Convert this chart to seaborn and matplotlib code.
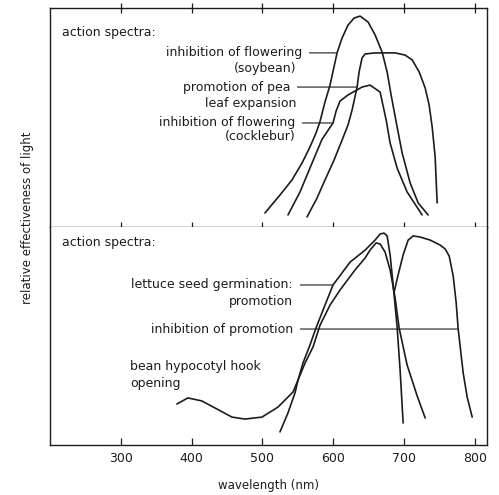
import matplotlib
matplotlib.use("Agg")
import matplotlib.pyplot as plt
import seaborn as sns

# upper panel: wavelength (nm) and relative effectiveness (0-1)
soy_nm = [503.5, 524.7, 541.7, 555.8, 567.0, 575.6, 581.0, 588.3, 595.4, 605.3,
          612.4, 620.8, 629.3, 637.8, 649.1, 659.0, 668.9, 676.0, 681.6, 690.1,
          697.2, 708.5, 719.8, 733.9]
soy_val = [0.064, 0.146, 0.215, 0.292, 0.365, 0.429, 0.479, 0.571, 0.648, 0.795,
           0.863, 0.922, 0.954, 0.963, 0.936, 0.877, 0.799, 0.708, 0.603, 0.457,
           0.338, 0.201, 0.110, 0.055]

pea_nm = [562.9, 577.0, 588.3, 601.1, 612.4, 620.8, 626.5, 633.6, 636.4, 640.6,
          644.9, 659.0, 687.3, 701.4, 711.3, 721.2, 729.7, 735.3, 739.6, 743.8,
          745.2, 746.6]
pea_val = [0.046, 0.132, 0.215, 0.306, 0.397, 0.466, 0.534, 0.639, 0.708, 0.772,
           0.790, 0.795, 0.795, 0.785, 0.763, 0.708, 0.635, 0.557, 0.457, 0.320,
           0.215, 0.110]

cock_nm = [536.0, 553.0, 570.0, 584.0, 599.6, 604.0, 609.5, 620.8, 640.6, 651.9,
           666.1, 674.6, 680.2, 690.1, 704.2, 725.4]
cock_val = [0.055, 0.160, 0.292, 0.400, 0.475, 0.530, 0.575, 0.603, 0.639, 0.648,
            0.616, 0.489, 0.384, 0.269, 0.160, 0.055]

# lower panel
lettuce_nm = [524.7, 536.0, 545.9, 550.2, 557.2, 567.1, 575.6, 585.5, 599.6, 623.7,
              644.9, 659.0, 666.1, 671.7, 676.0, 680.2, 684.5, 690.1, 694.3, 698.6]
lettuce_val = [0.060, 0.147, 0.239, 0.298, 0.376, 0.459, 0.537, 0.619, 0.734, 0.839,
               0.894, 0.940, 0.968, 0.972, 0.959, 0.872, 0.734, 0.541, 0.344, 0.101]

bean_nm = [379.2, 394.7, 414.5, 432.9, 456.9, 475.3, 499.3, 521.9, 543.1, 550.2,
           560.1, 571.4, 581.3, 595.4, 609.5, 630.7, 644.9, 651.9, 660.4, 666.1,
           673.1, 680.2, 687.3, 692.9, 704.2, 718.4, 729.7]
bean_val = [0.188, 0.216, 0.202, 0.170, 0.128, 0.119, 0.128, 0.174, 0.243, 0.298,
            0.376, 0.450, 0.550, 0.642, 0.711, 0.803, 0.858, 0.894, 0.927, 0.922,
            0.885, 0.803, 0.674, 0.537, 0.367, 0.225, 0.124]

farred_nm = [685.9, 691.5, 698.6, 705.7, 712.7, 722.6, 736.7, 750.9, 758.0, 763.6,
             769.3, 773.5, 776.3, 783.4, 789.0, 796.1]
farred_val = [0.702, 0.780, 0.872, 0.940, 0.959, 0.954, 0.940, 0.917, 0.899, 0.867,
              0.775, 0.651, 0.532, 0.330, 0.220, 0.128]

wl_ticks = [300, 400, 500, 600, 700, 800]

sns.set_style("ticks")
plt.rcParams["font.family"] = ["DejaVu Sans"]
ink = "#1c1c1c"

fig = plt.figure(figsize=(4.99, 4.95), dpi=100)
ax1 = fig.add_axes([50 / 499, 1 - 227 / 495, 437 / 499, 219 / 495])
ax2 = fig.add_axes([50 / 499, 1 - 445 / 495, 437 / 499, 218 / 495])

for x, y in [(soy_nm, soy_val), (pea_nm, pea_val), (cock_nm, cock_val)]:
    sns.lineplot(x=x, y=y, ax=ax1, color=ink, lw=1.2, estimator=None, sort=False)
for x, y in [(lettuce_nm, lettuce_val), (bean_nm, bean_val), (farred_nm, farred_val)]:
    sns.lineplot(x=x, y=y, ax=ax2, color=ink, lw=1.2, estimator=None, sort=False)

for ax in (ax1, ax2):
    ax.set_xlim(200, 817)
    ax.set_ylim(0, 1)
    ax.set_xticks(wl_ticks)
    ax.set_yticks([])
    ax.set_ylabel("")
    for s in ax.spines.values():
        s.set_color(ink)
        s.set_linewidth(1.0)

ax1.tick_params(axis="x", top=True, bottom=True, labelbottom=False,
                direction="inout", length=7, width=0.9, color=ink)
ax2.spines["top"].set_visible(False)
ax2.tick_params(axis="x", direction="in", length=5, width=0.9, color=ink,
                labelsize=9, pad=5, labelcolor=ink)
ax2.set_xlabel("wavelength (nm)", fontsize=8.5, labelpad=10, color=ink)
fig.text(28 / 499, 1 - 218 / 495, "relative effectiveness of light",
         rotation=90, ha="center", va="center", fontsize=8.5, color=ink)

fs = 9


def leader(ax, text, xt, xs, ys, i):
    ax.annotate(text, xy=(xs[i], ys[i]), xytext=(xt, ys[i]), ha="right",
                va="center", fontsize=fs, color=ink,
                arrowprops=dict(arrowstyle="-", lw=0.8, color=ink,
                                shrinkA=3, shrinkB=0))


ax1.text(216.6, 0.886, "action spectra:", fontsize=fs, va="center", color=ink)
leader(ax1, "inhibition of flowering", 555.8, soy_nm, soy_val, 9)
ax1.text(547.3, 0.726, "(soybean)", ha="right", va="center", fontsize=fs, color=ink)
leader(ax1, "promotion of pea", 538.9, pea_nm, pea_val, 7)
ax1.text(547.3, 0.566, "leaf expansion", ha="right", va="center", fontsize=fs, color=ink)
leader(ax1, "inhibition of flowering", 545.9, cock_nm, cock_val, 4)
ax1.text(547.3, 0.411, "(cocklebur)", ha="right", va="center", fontsize=fs, color=ink)

ax2.text(216.6, 0.927, "action spectra:", fontsize=fs, va="center", color=ink)
leader(ax2, "lettuce seed germination:", 543.1, lettuce_nm, lettuce_val, 8)
ax2.text(543.1, 0.656, "promotion", ha="right", va="center", fontsize=fs, color=ink)
leader(ax2, "inhibition of promotion", 543.1, farred_nm, farred_val, 12)
ax2.text(312.7, 0.358, "bean hypocotyl hook", va="center", fontsize=fs, color=ink)
ax2.text(312.7, 0.284, "opening", va="center", fontsize=fs, color=ink)

fig.savefig("out.png", dpi=100)
